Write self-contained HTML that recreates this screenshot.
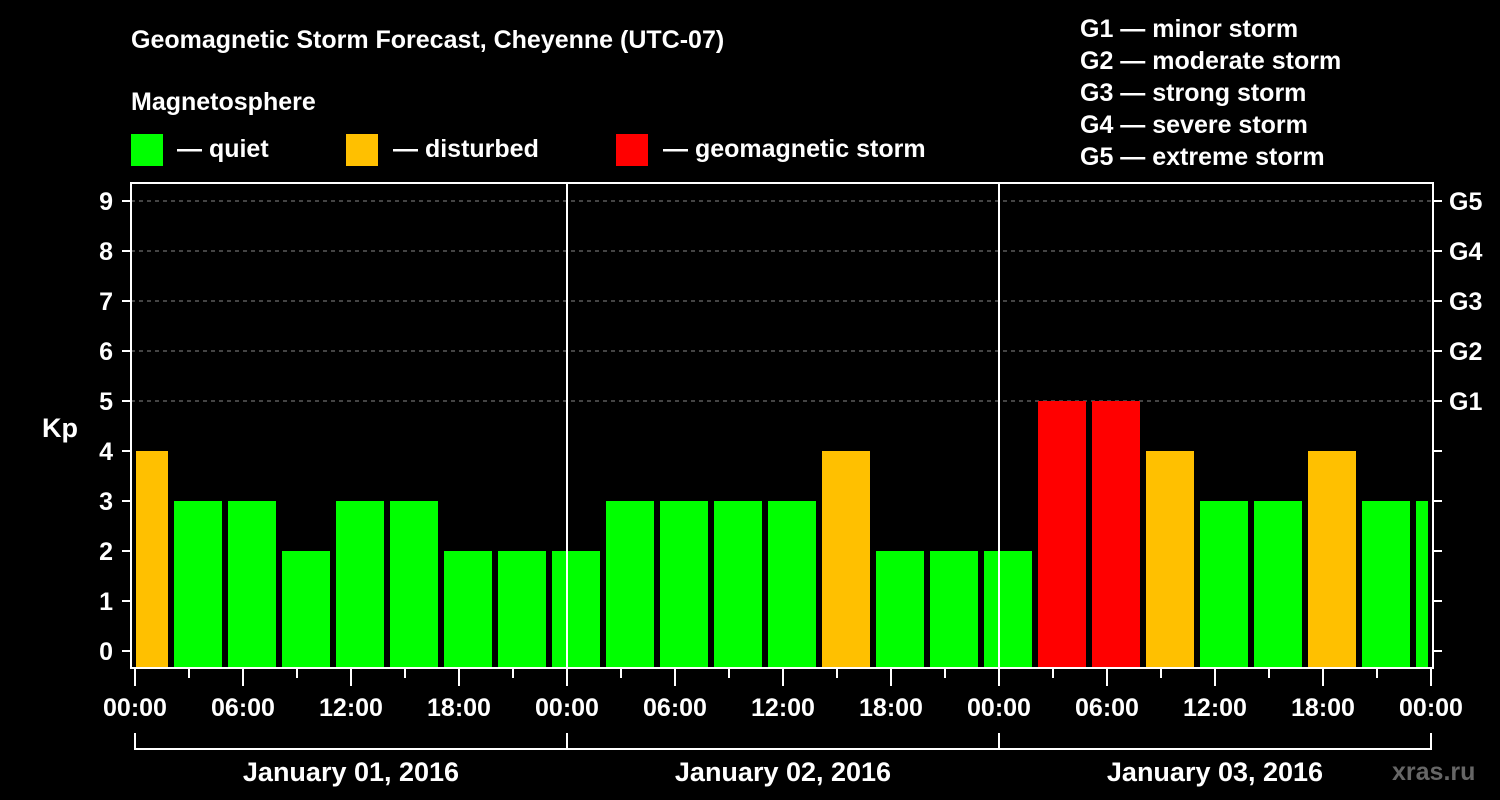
<!DOCTYPE html>
<html><head><meta charset="utf-8"><style>
body{margin:0;background:#000;width:1500px;height:800px;overflow:hidden}
svg{display:block;font-family:"Liberation Sans",Arial,sans-serif;font-weight:bold;fill:#fff}
</style></head><body>
<svg id="chart" width="1500" height="800" viewBox="0 0 1500 800">
<text x="131" y="48" font-size="25">Geomagnetic Storm Forecast, Cheyenne (UTC-07)</text>
<text x="131" y="110" font-size="25">Magnetosphere</text>
<g font-size="25">
<rect x="131" y="134" width="32" height="32" fill="#00ff00"/>
<text x="177" y="157">— quiet</text>
<rect x="346" y="134" width="32" height="32" fill="#ffc000"/>
<text x="393" y="157">— disturbed</text>
<rect x="616" y="134" width="32" height="32" fill="#ff0000"/>
<text x="663" y="157">— geomagnetic storm</text>
</g>
<g font-size="25">
<text x="1080" y="37">G1 — minor storm</text>
<text x="1080" y="69">G2 — moderate storm</text>
<text x="1080" y="101">G3 — strong storm</text>
<text x="1080" y="133">G4 — severe storm</text>
<text x="1080" y="165">G5 — extreme storm</text>
</g>
<text x="42" y="437" font-size="27">Kp</text>
<g id="grid"></g><g id="bars"></g><g id="axes"></g>
<text x="1392" y="780" font-size="25" fill="#666" style="fill:#666">xras.ru</text>
</svg>
<script>
const kpValues=[4,3,3,2,3,3,2,2,2,3,3,3,3,4,2,2,2,5,5,4,3,3,4,3,3];
const kpTicks=[0,1,2,3,4,5,6,7,8,9];
const gLabels=["G1","G2","G3","G4","G5"];
const hourLabels=["00:00","06:00","12:00","18:00","00:00","06:00","12:00","18:00","00:00","06:00","12:00","18:00","00:00"];
const dayLabels=["January 01, 2016","January 02, 2016","January 03, 2016"];
const NS="http://www.w3.org/2000/svg";
const X0=135,PXH=18,Y0=651,PXK=50,L=131,R=1433,T=183,B=668;
const xs=h=>X0+h*PXH, ys=k=>Y0-k*PXK;
function el(t,a,p){const e=document.createElementNS(NS,t);for(const k in a)e.setAttribute(k,a[k]);document.getElementById(p).appendChild(e);return e;}
for(let k=5;k<=9;k++){const e=el('line',{x1:L,x2:R,y1:ys(k),y2:ys(k),stroke:'#888','stroke-dasharray':'4,4','stroke-width':1},'grid');

}
kpValues.forEach((v,i)=>{const c=i*3+0.5;let x1=Math.max(xs(c)-24,136),x2=Math.min(xs(c)+24,1428);
const e=el('rect',{x:x1,y:ys(v),width:x2-x1,height:B-1-ys(v),fill:v>=5?'#ff0000':v>=4?'#ffc000':'#00ff00'},'bars');

});
const frame=el('rect',{x:L,y:T,width:R-L,height:B-T,fill:'none',stroke:'#fff','stroke-width':2},'axes');


[24,48].forEach(h=>{const e=el('line',{x1:xs(h),x2:xs(h),y1:T,y2:B,stroke:'#fff','stroke-width':2},'axes');

});
kpTicks.forEach(k=>{el('line',{x1:122,x2:L,y1:ys(k),y2:ys(k),stroke:'#fff','stroke-width':2},'axes');
el('line',{x1:R,x2:1442,y1:ys(k),y2:ys(k),stroke:'#fff','stroke-width':2},'axes');
const t=el('text',{x:113,y:ys(k)+9,'font-size':25,'text-anchor':'end'},'axes');t.textContent=k;

});
gLabels.forEach((g,i)=>{const t=el('text',{x:1449,y:ys(5+i)+9,'font-size':25},'axes');t.textContent=g;

});
for(let h=0;h<=72;h+=3){el('line',{x1:xs(h),x2:xs(h),y1:B,y2:h%6==0?686:678,stroke:'#fff','stroke-width':2},'axes');}
hourLabels.forEach((s,i)=>{const t=el('text',{x:xs(i*6),y:716,'font-size':25,'text-anchor':'middle'},'axes');t.textContent=s;

});
el('line',{x1:xs(0),x2:xs(72),y1:749,y2:749,stroke:'#fff','stroke-width':2},'axes');
for(let d=0;d<=3;d++)el('line',{x1:xs(d*24),x2:xs(d*24),y1:733,y2:750,stroke:'#fff','stroke-width':2},'axes');
dayLabels.forEach((s,i)=>{const t=el('text',{x:xs(i*24+12),y:781,'font-size':27,'text-anchor':'middle'},'axes');t.textContent=s;

});
</script>
</body></html>
